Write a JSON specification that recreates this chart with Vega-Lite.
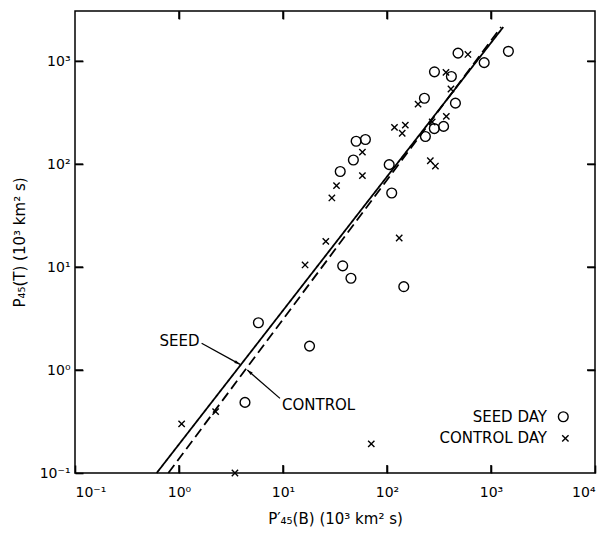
{
  "$schema": "https://vega.github.io/schema/vega-lite/v6.json",
  "width": 520,
  "height": 462,
  "autosize": {"type": "none"},
  "padding": {"left": 75, "top": 11, "right": 11, "bottom": 64},
  "background": "white",
  "config": {
    "view": {"stroke": "black", "strokeWidth": 1.5},
    "font": "DejaVu Sans"
  },
  "datasets": {
    "points": [
      {"type": "SEED DAY", "x": 482, "y": 1200},
      {"type": "SEED DAY", "x": 1470, "y": 1250},
      {"type": "SEED DAY", "x": 860, "y": 970},
      {"type": "SEED DAY", "x": 286, "y": 790},
      {"type": "SEED DAY", "x": 416, "y": 712},
      {"type": "SEED DAY", "x": 229, "y": 437},
      {"type": "SEED DAY", "x": 455, "y": 392},
      {"type": "SEED DAY", "x": 234, "y": 186},
      {"type": "SEED DAY", "x": 285, "y": 222},
      {"type": "SEED DAY", "x": 350, "y": 233},
      {"type": "SEED DAY", "x": 105, "y": 99},
      {"type": "SEED DAY", "x": 111, "y": 52.5},
      {"type": "SEED DAY", "x": 50.5, "y": 167},
      {"type": "SEED DAY", "x": 62, "y": 174},
      {"type": "SEED DAY", "x": 47.5, "y": 110},
      {"type": "SEED DAY", "x": 35.5, "y": 85},
      {"type": "SEED DAY", "x": 37.5, "y": 10.3},
      {"type": "SEED DAY", "x": 45, "y": 7.8},
      {"type": "SEED DAY", "x": 145, "y": 6.46},
      {"type": "SEED DAY", "x": 5.8, "y": 2.88},
      {"type": "SEED DAY", "x": 18, "y": 1.71},
      {"type": "SEED DAY", "x": 4.31, "y": 0.485},
      {"type": "CONTROL DAY", "x": 600, "y": 1165},
      {"type": "CONTROL DAY", "x": 369, "y": 780},
      {"type": "CONTROL DAY", "x": 412, "y": 538},
      {"type": "CONTROL DAY", "x": 199, "y": 383},
      {"type": "CONTROL DAY", "x": 372, "y": 292},
      {"type": "CONTROL DAY", "x": 118, "y": 228},
      {"type": "CONTROL DAY", "x": 150, "y": 240},
      {"type": "CONTROL DAY", "x": 140, "y": 200},
      {"type": "CONTROL DAY", "x": 261, "y": 108},
      {"type": "CONTROL DAY", "x": 292, "y": 96},
      {"type": "CONTROL DAY", "x": 58, "y": 131},
      {"type": "CONTROL DAY", "x": 58, "y": 77.5},
      {"type": "CONTROL DAY", "x": 32.7, "y": 62},
      {"type": "CONTROL DAY", "x": 29.5, "y": 47},
      {"type": "CONTROL DAY", "x": 25.8, "y": 17.8},
      {"type": "CONTROL DAY", "x": 16.3, "y": 10.5},
      {"type": "CONTROL DAY", "x": 131, "y": 19.2},
      {"type": "CONTROL DAY", "x": 70.6, "y": 0.192},
      {"type": "CONTROL DAY", "x": 1.06, "y": 0.3},
      {"type": "CONTROL DAY", "x": 2.25, "y": 0.394},
      {"type": "CONTROL DAY", "x": 3.45, "y": 0.1},
      {"type": "CONTROL DAY", "x": 272, "y": 257}
    ],
    "fits": [
      {"series": "SEED", "x": 0.61, "y": 0.1},
      {"series": "SEED", "x": 1312, "y": 2152},
      {"series": "CONTROL", "x": 0.79, "y": 0.1},
      {"series": "CONTROL", "x": 1250, "y": 2152}
    ],
    "arrows": [
      {"name": "SEED", "x": 1.65, "y": 1.82, "x2": 3.86, "y2": 1.136},
      {"name": "CONTROL", "x": 9.35, "y": 0.531, "x2": 4.54, "y2": 1.0}
    ],
    "legend": [
      {"type": "SEED DAY", "tx": 3454, "sx": 4955, "y": 0.352},
      {"type": "CONTROL DAY", "tx": 3454, "sx": 5190, "y": 0.217}
    ],
    "xticks": [
      {"v": 1, "edge": 0.1}, {"v": 10, "edge": 0.1}, {"v": 100, "edge": 0.1}, {"v": 1000, "edge": 0.1},
      {"v": 1, "edge": 3080}, {"v": 10, "edge": 3080}, {"v": 100, "edge": 3080}, {"v": 1000, "edge": 3080}
    ],
    "yticks": [
      {"v": 1, "edge": 0.1}, {"v": 10, "edge": 0.1}, {"v": 100, "edge": 0.1}, {"v": 1000, "edge": 0.1},
      {"v": 1, "edge": 10000}, {"v": 10, "edge": 10000}, {"v": 100, "edge": 10000}, {"v": 1000, "edge": 10000}
    ]
  },
  "layer": [
    {
      "data": {"name": "fits"},
      "mark": {"type": "line", "color": "black", "strokeWidth": 1.8},
      "encoding": {
        "x": {"field": "x", "type": "quantitative", "scale": {"type": "log", "domain": [0.1, 10000], "nice": false},
          "axis": {"orient": "top", "labels": false, "title": null, "grid": false, "values": [1, 10, 100, 1000], "tickSize": 8, "tickColor": "black", "tickWidth": 1.6, "offset": -8, "domain": false}},
        "y": {"field": "y", "type": "quantitative", "scale": {"type": "log", "domain": [0.1, 3080], "nice": false},
          "axis": {"orient": "right", "labels": false, "title": null, "grid": false, "values": [1, 10, 100, 1000], "tickSize": 8, "tickColor": "black", "tickWidth": 1.6, "offset": -8, "domain": false}},
        "detail": {"field": "series"},
        "strokeDash": {"field": "series", "type": "nominal", "scale": {"domain": ["SEED", "CONTROL"], "range": [[1, 0], [10, 5]]}, "legend": null}
      }
    },
    {
      "data": {"name": "points"},
      "mark": {"type": "point", "filled": false, "color": "black", "strokeWidth": 1.4, "opacity": 1},
      "encoding": {
        "x": {"field": "x", "type": "quantitative",
          "axis": {"orient": "bottom", "grid": false, "values": [0.1, 1, 10, 100, 1000, 10000], "tickSize": 8, "tickColor": "black", "tickWidth": 1.6, "offset": -8, "domain": false, "labelPadding": 12, "labelFontSize": 14, "labelColor": "black", "labelFont": "DejaVu Sans",
            "labelExpr": "'10' + ['⁻¹','⁰','¹','²','³','⁴'][round(log(datum.value)/LN10)+1]",
            "title": "P′₄₅(B) (10³ km² s)", "titleFont": "DejaVu Sans", "titleColor": "black", "titleFontSize": 15, "titleFontWeight": "normal", "titlePadding": 12}},
        "y": {"field": "y", "type": "quantitative",
          "axis": {"orient": "left", "grid": false, "values": [0.1, 1, 10, 100, 1000], "tickSize": 8, "tickColor": "black", "tickWidth": 1.6, "offset": -8, "domain": false, "labelPadding": 5, "labelFontSize": 14, "labelColor": "black", "labelFont": "DejaVu Sans",
            "labelExpr": "'10' + ['⁻¹','⁰','¹','²','³','⁴'][round(log(datum.value)/LN10)+1]",
            "title": "P₄₅(T) (10³ km² s)", "titleFont": "DejaVu Sans", "titleColor": "black", "titleFontSize": 15, "titleFontWeight": "normal", "titlePadding": 12}},
        "shape": {"field": "type", "type": "nominal", "scale": {"domain": ["SEED DAY", "CONTROL DAY"], "range": ["circle", "M-1,-1L1,1M-1,1L1,-1"]}, "legend": null},
        "size": {"field": "type", "type": "nominal", "scale": {"domain": ["SEED DAY", "CONTROL DAY"], "range": [95, 40]}, "legend": null}
      }
    },
    {
      "data": {"name": "arrows"},
      "mark": {"type": "rule", "color": "black", "strokeWidth": 1.3},
      "encoding": {
        "x": {"field": "x", "type": "quantitative", "axis": null},
        "y": {"field": "y", "type": "quantitative", "axis": null},
        "x2": {"field": "x2"},
        "y2": {"field": "y2"}
      }
    },
    {
      "data": {"name": "arrows"},
      "transform": [{"filter": "datum.name == 'SEED'"}],
      "mark": {"type": "point", "shape": "M0,0L0.5,1.8L-0.5,1.8Z", "filled": true, "color": "black", "size": 40, "angle": 118.7, "opacity": 1},
      "encoding": {
        "x": {"field": "x2", "type": "quantitative", "axis": null},
        "y": {"field": "y2", "type": "quantitative", "axis": null}
      }
    },
    {
      "data": {"name": "arrows"},
      "transform": [{"filter": "datum.name == 'CONTROL'"}],
      "mark": {"type": "point", "shape": "M0,0L0.5,1.8L-0.5,1.8Z", "filled": true, "color": "black", "size": 40, "angle": 310.9, "opacity": 1},
      "encoding": {
        "x": {"field": "x2", "type": "quantitative", "axis": null},
        "y": {"field": "y2", "type": "quantitative", "axis": null}
      }
    },
    {
      "data": {"name": "arrows"},
      "transform": [{"filter": "datum.name == 'SEED'"}],
      "mark": {"type": "text", "align": "right", "baseline": "bottom", "dx": -2, "dy": 6, "fontSize": 15, "color": "black"},
      "encoding": {
        "x": {"field": "x", "type": "quantitative", "axis": null},
        "y": {"field": "y", "type": "quantitative", "axis": null},
        "text": {"field": "name"}
      }
    },
    {
      "data": {"name": "arrows"},
      "transform": [{"filter": "datum.name == 'CONTROL'"}],
      "mark": {"type": "text", "align": "left", "baseline": "top", "dx": 2, "dy": 0, "fontSize": 15, "color": "black"},
      "encoding": {
        "x": {"field": "x", "type": "quantitative", "axis": null},
        "y": {"field": "y", "type": "quantitative", "axis": null},
        "text": {"field": "name"}
      }
    },
    {
      "data": {"name": "legend"},
      "mark": {"type": "text", "align": "right", "baseline": "middle", "fontSize": 15, "color": "black"},
      "encoding": {
        "x": {"field": "tx", "type": "quantitative", "axis": null},
        "y": {"field": "y", "type": "quantitative", "axis": null},
        "text": {"field": "type"}
      }
    },
    {
      "data": {"name": "legend"},
      "mark": {"type": "point", "filled": false, "color": "black", "strokeWidth": 1.4, "opacity": 1},
      "encoding": {
        "x": {"field": "sx", "type": "quantitative", "axis": null},
        "y": {"field": "y", "type": "quantitative", "axis": null},
        "shape": {"field": "type", "type": "nominal", "legend": null},
        "size": {"field": "type", "type": "nominal", "legend": null}
      }
    },
    {
      "data": {"name": "xticks"},
      "mark": {"type": "tick", "orient": "vertical", "color": "black", "size": 16, "thickness": 1.5, "opacity": 1, "clip": true},
      "encoding": {
        "x": {"field": "v", "type": "quantitative", "axis": null},
        "y": {"field": "edge", "type": "quantitative", "axis": null}
      }
    },
    {
      "data": {"name": "yticks"},
      "mark": {"type": "tick", "orient": "horizontal", "color": "black", "size": 16, "thickness": 1.5, "opacity": 1, "clip": true},
      "encoding": {
        "x": {"field": "edge", "type": "quantitative", "axis": null},
        "y": {"field": "v", "type": "quantitative", "axis": null}
      }
    }
  ]
}
